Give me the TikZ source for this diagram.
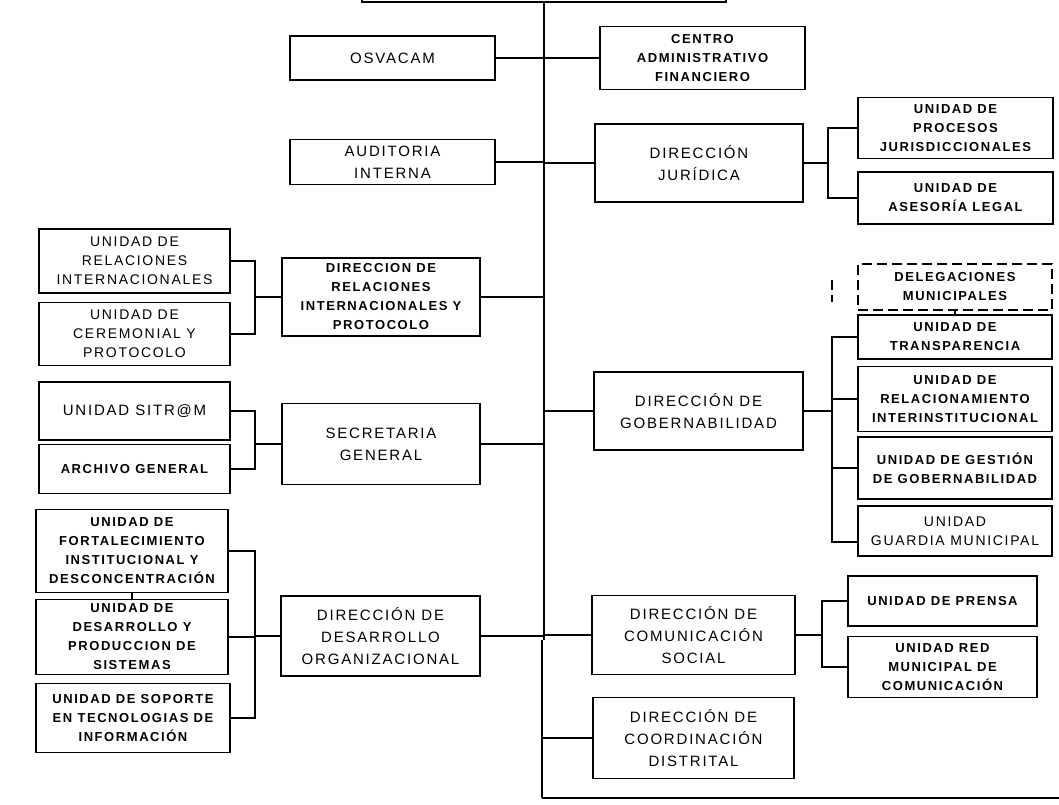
\documentclass[tikz,border=0pt]{standalone}
\usepackage{fontspec}
\setmainfont{Liberation Sans}
\newfontfamily\lsfont[LetterSpace=12]{Liberation Sans}
\begin{document}
\begin{tikzpicture}[x=1pt,y=-1pt,
  box/.style={draw, line width=1.8pt, rectangle, inner sep=1pt, align=center},
  dirtext/.style={font=\lsfont\fontsize{15}{22}\selectfont},
  unittext/.style={font=\lsfont\fontsize{14}{19}\selectfont},
  unitbold/.style={font=\lsfont\bfseries\fontsize{13}{19}\selectfont},
  link/.style={line width=2pt},
  dashbox/.style={dash pattern=on 10pt off 5pt}]
\useasboundingbox (0,0) rectangle (1059,804);
\fill[white] (0,0) rectangle (1059,804);

% top (cut) box
\node[box, minimum width=364pt, minimum height=44pt] (top) at (544,-20) {};

% left column of directions
\node[box, dirtext, minimum width=205pt, minimum height=44pt] (osvacam) at (392.5,58) {OSVACAM};
\node[box, dirtext, minimum width=205pt, minimum height=45pt] (auditoria) at (392.5,162) {AUDITORIA\\INTERNA};
\node[box, unitbold, minimum width=198pt, minimum height=78pt] (dirrelint) at (381,297) {DIRECCION DE\\RELACIONES\\INTERNACIONALES Y\\PROTOCOLO};
\node[box, dirtext, minimum width=198pt, minimum height=81pt] (secretaria) at (381,444) {SECRETARIA\\GENERAL};
\node[box, dirtext, minimum width=199pt, minimum height=80pt] (dirdesorg) at (380.5,636) {DIRECCIÓN DE\\DESARROLLO\\ORGANIZACIONAL};

% far-left units
\node[box, unittext, minimum width=191pt, minimum height=64pt] (relint) at (134.5,261) {UNIDAD DE\\RELACIONES\\INTERNACIONALES};
\node[box, unittext, minimum width=191pt, minimum height=63pt] (ceremonial) at (134.5,334) {UNIDAD DE\\CEREMONIAL Y\\PROTOCOLO};
\node[box, dirtext, minimum width=191pt, minimum height=58pt] (sitram) at (134.5,411) {UNIDAD SITR@M};
\node[box, unitbold, minimum width=191pt, minimum height=49pt] (archivo) at (134.5,469) {ARCHIVO GENERAL};
\node[box, unitbold, minimum width=192pt, minimum height=83pt] (fortalec) at (132,551) {UNIDAD DE\\FORTALECIMIENTO\\INSTITUCIONAL Y\\DESCONCENTRACIÓN};
\node[box, unitbold, minimum width=192pt, minimum height=75pt] (desunit) at (132,637) {UNIDAD DE\\DESARROLLO Y\\PRODUCCION DE\\SISTEMAS};
\node[box, unitbold, minimum width=194pt, minimum height=69pt] (soporte) at (133,718) {UNIDAD DE SOPORTE\\EN TECNOLOGIAS DE\\INFORMACIÓN};

% right column of directions
\node[box, unitbold, minimum width=205pt, minimum height=63pt] (centro) at (702.5,58) {CENTRO\\ADMINISTRATIVO\\FINANCIERO};
\node[box, dirtext, minimum width=208pt, minimum height=78pt] (juridica) at (699,163) {DIRECCIÓN\\JURÍDICA};
\node[box, dirtext, minimum width=209pt, minimum height=78pt] (gobern) at (698.5,411) {DIRECCIÓN DE\\GOBERNABILIDAD};
\node[box, dirtext, minimum width=203pt, minimum height=79pt] (comsoc) at (693.5,635) {DIRECCIÓN DE\\COMUNICACIÓN\\SOCIAL};
\node[box, dirtext, minimum width=201pt, minimum height=81pt] (coord) at (693.5,738) {DIRECCIÓN DE\\COORDINACIÓN\\DISTRITAL};

% far-right units
\node[box, unitbold, minimum width=195pt, minimum height=61pt] (procesos) at (955.5,128) {UNIDAD DE\\PROCESOS\\JURISDICCIONALES};
\node[box, unitbold, minimum width=195pt, minimum height=52pt] (asesoria) at (955.5,198) {UNIDAD DE\\ASESORÍA LEGAL};
\node[box, unitbold, dashbox, minimum width=194pt, minimum height=46pt] (delegaciones) at (955,287) {DELEGACIONES\\MUNICIPALES};
\node[box, unitbold, minimum width=194pt, minimum height=44pt] (transparencia) at (955,337) {UNIDAD DE\\TRANSPARENCIA};
\node[box, unitbold, minimum width=194pt, minimum height=65pt] (relacionamiento) at (955,399) {UNIDAD DE\\RELACIONAMIENTO\\INTERINSTITUCIONAL};
\node[box, unitbold, minimum width=194pt, minimum height=62pt] (gestion) at (955,468) {UNIDAD DE GESTIÓN\\DE GOBERNABILIDAD};
\node[box, unittext, minimum width=194pt, minimum height=50pt] (guardia) at (955,531) {UNIDAD\\GUARDIA MUNICIPAL};
\node[box, unitbold, minimum width=189pt, minimum height=50pt] (prensa) at (942.5,601) {UNIDAD DE PRENSA};
\node[box, unitbold, minimum width=189pt, minimum height=61pt] (redmun) at (942.5,667) {UNIDAD RED\\MUNICIPAL DE\\COMUNICACIÓN};

% reference coordinates for bus lines
\coordinate (mainx) at (543,0);
\coordinate (mainlow) at (542,640);
\coordinate (mainbot) at (542,798);
\coordinate (botright) at (1059,798);
\coordinate (lbx) at (255,0);
\coordinate (jbx) at (828,0);
\coordinate (gbx) at (832,0);
\coordinate (cbx) at (822,0);
\coordinate (dash1) at (832,280);
\coordinate (dash2) at (832,302);

% main trunk
\draw[link] (top.south) -- (top.south |- mainlow);
\draw[line width=2.8pt] (mainlow) -- (mainbot);
\draw[link] (mainbot) -- (botright);

% directions to trunk
\draw[link] (osvacam.east) -- (centro.west);
\draw[link] (auditoria.east) -- (auditoria.east -| mainx);
\draw[link] (juridica.west) -- (juridica.west -| mainx);
\draw[link] (dirrelint.east) -- (dirrelint.east -| mainx);
\draw[link] (secretaria.east) -- (secretaria.east -| mainx);
\draw[link] (dirdesorg.east) -- (dirdesorg.east -| mainx);
\draw[link] (gobern.west) -- (gobern.west -| mainx);
\draw[link] (comsoc.west) -- (comsoc.west -| mainx);
\draw[link] (coord.west) -- (coord.west -| mainx);

% left brackets
\draw[link] (relint.east) -- (relint.east -| lbx) -- (ceremonial.east -| lbx) -- (ceremonial.east);
\draw[link] (dirrelint.west) -- (dirrelint.west -| lbx);
\draw[link] (sitram.east) -- (sitram.east -| lbx) -- (archivo.east -| lbx) -- (archivo.east);
\draw[link] (secretaria.west) -- (secretaria.west -| lbx);
\draw[link] (fortalec.east) -- (fortalec.east -| lbx) -- (soporte.east -| lbx) -- (soporte.east);
\draw[link] (desunit.east) -- (desunit.east -| lbx);
\draw[link] (dirdesorg.west) -- (dirdesorg.west -| lbx);
\draw[link] (fortalec.south) -- (desunit.north);

% right brackets
\draw[link] (procesos.west) -- (procesos.west -| jbx) -- (asesoria.west -| jbx) -- (asesoria.west);
\draw[link] (juridica.east) -- (juridica.east -| jbx);
\draw[link] (transparencia.west) -- (transparencia.west -| gbx) -- ([yshift=-11pt]guardia.west -| gbx) -- ([yshift=-11pt]guardia.west);
\draw[link] (relacionamiento.west) -- (relacionamiento.west -| gbx);
\draw[link] (gestion.west) -- (gestion.west -| gbx);
\draw[link] (gobern.east) -- (gobern.east -| gbx);
\draw[link] (delegaciones.south) -- (transparencia.north);
\draw[link, dashbox] (dash1) -- (dash2);
\draw[link] (prensa.west) -- (prensa.west -| cbx) -- (redmun.west -| cbx) -- (redmun.west);
\draw[link] (comsoc.east) -- (comsoc.east -| cbx);
\end{tikzpicture}
\end{document}
